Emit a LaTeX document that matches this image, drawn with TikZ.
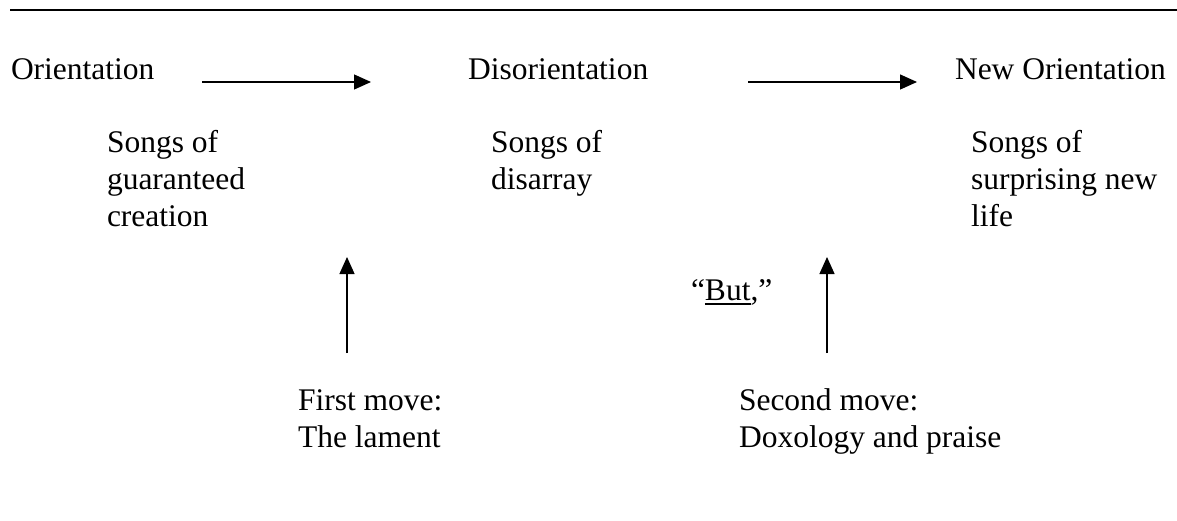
\documentclass[tikz,border=0pt]{standalone}
\usepackage{fontspec}
\setmainfont{Liberation Serif}
\usetikzlibrary{arrows.meta}
\newcommand{\ulbut}[1]{{\setbox0\hbox{#1}\rlap{\rule[-4.5pt]{\wd0}{1.4pt}}\box0}}
\begin{document}
\begin{tikzpicture}[x=1pt,y=-1pt,
  txt/.style={anchor=base west,inner sep=0pt,outer sep=0pt,align=left,font=\fontsize{31.5}{37}\selectfont},
  conn/.style={line width=1.3pt,-{Triangle[length=17pt,width=15pt]}},
  rulebar/.style={line width=1.4pt}]
\useasboundingbox (0,0) rectangle (1177,521);
% top rule
\coordinate (r1) at (10,10);
\coordinate (r2) at (1177,10);
\draw[rulebar] (r1) -- (r2);
% headings
\node[txt] (orient) at (11,80) {Orientation};
\node[txt] (disor) at (468,80) {Disorientation};
\node[txt] (neworient) at (955,80) {New Orientation};
% song groups (anchor at baseline of last line)
\node[txt] (s1) at (107,227) {Songs of\\guaranteed\\creation};
\node[txt] (s2) at (491,190) {Songs of\\disarray};
\node[txt] (s3) at (971,227) {Songs of\\surprising new\\life};
% moves
\node[txt] (m1) at (298,447) {First move:\\The lament};
\node[txt] (m2) at (739,447) {Second move:\\Doxology and praise};
\node[txt] (but) at (691,300) {“\ulbut{But},”};
% arrows
\coordinate (a1s) at (202,82);
\coordinate (a1e) at (371,82);
\coordinate (a2s) at (748,82);
\coordinate (a2e) at (917,82);
\coordinate (v1s) at (347,353);
\coordinate (v1e) at (347,257);
\coordinate (v2s) at (827,353);
\coordinate (v2e) at (827,257);
\draw[conn] (a1s) -- (a1e);
\draw[conn] (a2s) -- (a2e);
\draw[conn] (v1s) -- (v1e);
\draw[conn] (v2s) -- (v2e);
\end{tikzpicture}
\end{document}
